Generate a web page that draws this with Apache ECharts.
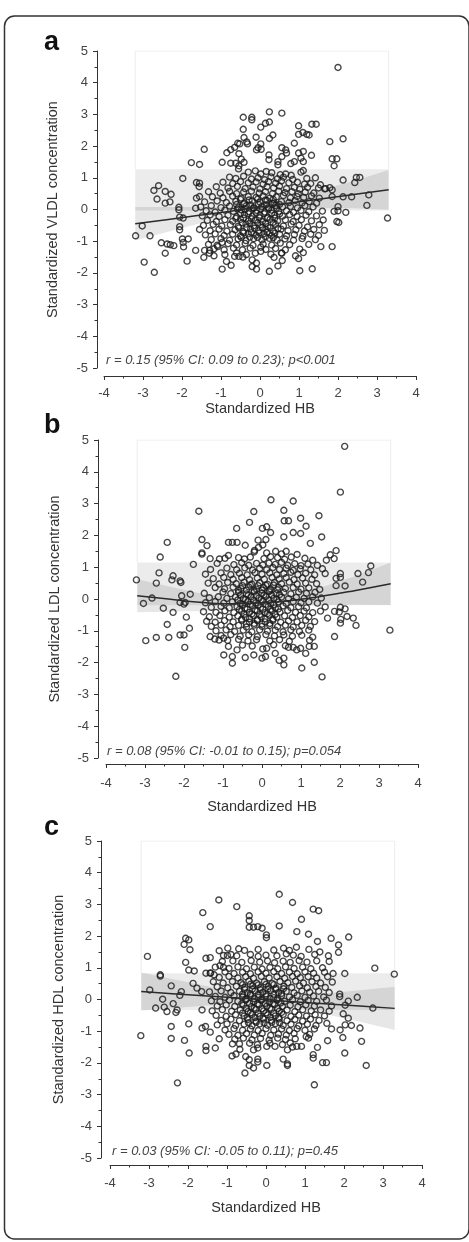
<!DOCTYPE html>
<html><head><meta charset="utf-8">
<script src="https://cdn.jsdelivr.net/npm/echarts/dist/echarts.min.js"></script>
<style>html,body{margin:0;padding:0;background:#fff}#c{width:469px;height:1242px}</style>
</head><body><div id="c"></div>
<script>
// ---- axes / labels ----
const xTicks = [-4,-3,-2,-1,0,1,2,3,4];
const yTicks = [-5,-4,-3,-2,-1,0,1,2,3,4,5];
const panelLetters = ['a','b','c'];
const yTitles = ['Standardized VLDL concentration','Standardized LDL concentration','Standardized HDL concentration'];
const xTitle = 'Standardized HB';
const statTexts = [
  'r = 0.15 (95% CI: 0.09 to 0.23); p<0.001',
  'r = 0.08 (95% CI: -0.01 to 0.15); p=0.054',
  'r = 0.03 (95% CI: -0.05 to 0.11); p=0.45'
];

// ---- fit lines & bands (x grid shared) ----
const fitX = [-3.2,-2.4,-1.6,-0.8,0,0.8,1.6,2.4,3.3];
const fitA = [-0.45,-0.32,-0.19,-0.06,0.08,0.21,0.34,0.47,0.62];
const fanHiA = [0.08,0.08,0.08,0.09,0.16,0.37,0.63,0.90,1.25];
const fanLoA = [-0.98,-0.72,-0.46,-0.21,0.00,0.05,0.05,0.04,-0.01];
const rectA = [-0.03,1.27];
const fitB = [0.10,0.00,-0.10,-0.15,-0.12,-0.04,0.10,0.27,0.48];
const fanHiB = [0.62,0.40,0.18,0.03,0.00,0.14,0.40,0.72,1.15];
const fanLoB = [-0.42,-0.40,-0.38,-0.33,-0.24,-0.22,-0.20,-0.18,-0.19];
const rectB = [-0.2,1.15];
const fitC = [0.25,0.185,0.12,0.055,-0.01,-0.075,-0.14,-0.205,-0.28];
const fanHiC = [0.85,0.645,0.44,0.235,0.09,0.105,0.2,0.295,0.40];
const fanLoC = [-0.35,-0.275,-0.2,-0.125,-0.11,-0.255,-0.48,-0.705,-0.96];
const rectC = [-0.33,0.83];

// ---- points, panel a (VLDL) ----
const vldlOuter = [
[2.0,4.48],[3.27,-0.27],[-3.19,-0.83],[-3.02,-0.52],[-2.82,-0.83],[-2.97,-1.66],[-2.71,-1.98],[-2.72,0.6],[-2.6,0.75],[-2.64,0.33],[-2.43,0.57],[-2.28,0.48],[-2.43,0.2],[-2.31,0.24],[-2.53,-1.05],[-2.38,-1.09],[-2.3,-1.11],[-2.21,-1.14],[-2.43,-1.38],[-1.98,0.98],[-2.08,0.07],[-2.08,-0.01],[-2.06,-0.24],[-1.97,-0.27],[-2.06,-0.54],[-2.06,-0.64],[-1.99,-0.93],[-1.84,-0.93],[-1.97,-1.04],[-1.96,-1.18],[-1.87,-1.63],[-1.76,1.48],[-1.55,1.42],[-1.43,1.9],[-1.63,0.85],[-1.55,0.83],[-1.56,0.72],[-1.63,0.36],[-1.55,0.41],[-1.65,0.04],[-1.65,-1.29],[-1.44,-1.51],[-0.97,1.49],[-0.97,-1.88],[-0.86,-1.64],[-0.74,-1.76],
[-0.43,2.91],[-0.21,2.91],[-0.21,2.83],[0.24,3.08],[0.56,3.04],[-0.43,2.53],[-0.1,2.28],[0.02,2.6],[0.14,2.72],[0.24,2.76],[0.33,2.35],[0.24,2.24],[-0.41,2.27],[-0.57,2.09],[-0.52,2.07],[-0.34,2.13],[-0.32,2.07],[0.02,2.07],[-0.09,1.88],[0.03,1.9],[-0.75,1.89],[-0.65,1.96],[-0.85,1.79],[-0.54,1.76],[-0.75,1.46],[-0.48,1.59],[-0.41,1.49],[-0.62,1.46],[-0.54,1.38],[-0.05,1.95],
[0.56,1.95],[0.66,1.88],[0.68,1.78],[0.56,1.67],[0.46,1.51],[0.46,1.41],[0.23,1.72],[0.23,1.57],[0.99,2.64],[0.99,2.37],[1.1,2.43],[1.2,2.37],[1.26,2.35],[1.33,2.69],[1.44,2.69],[0.88,2.09],[0.99,1.78],[1.11,1.83],[1.32,1.71],[0.88,1.51],[0.79,1.45],[1.05,1.62],[1.11,1.51],[1.11,1.23],
[1.79,2.14],[2.13,2.23],[1.85,1.6],[1.97,1.6],[1.9,1.38],[2.13,0.93],[2.43,0.85],[2.47,1.01],[2.56,1.01],[2.79,0.46],[2.74,0.13],[2.35,0.4],[2.13,0.4],[2.0,0.09],[2.0,-0.04],[1.9,-0.06],[2.2,-0.09],[1.97,-0.38],[2.02,-0.41],[1.85,-1.17],[1.79,0.69],[1.85,0.62],[1.66,0.65],[1.5,0.68],[1.85,0.41],
[1.56,-1.17],[1.34,-1.87],[1.02,-1.93],[1.02,-1.25],[0.91,-1.46],[0.99,-1.55],[1.11,-1.36],
[0.24,-1.95],[0.46,-1.78],[0.57,-1.61],[0.36,-1.51],[0.56,-1.38],[-0.2,-1.8],[-0.09,-1.88],[-0.2,-1.59],[-0.09,-1.69],[0.02,-1.19],[0.02,-1.32],[-0.44,-1.5],[-0.54,-1.48],[-0.65,-1.48],[-1.18,-1.46],[-1.29,-1.29],[-1.42,-1.29],[-1.08,-1.17],[-0.97,-1.04]
];
const vldlCore = [
[-0.55,1.28],[-0.3,1.18],[-0.12,1.22],[0.02,1.12],[0.16,1.2],[0.3,1.16],[0.52,1.1],[0.66,1.12],[0.8,1.08],[1.05,1.18],
[-0.78,1.02],[-0.62,0.98],[-0.42,1.05],[-0.22,0.96],[-0.05,1.0],[0.12,0.94],[0.28,1.03],[0.45,0.97],[0.6,1.02],[0.84,0.95],[1.2,0.98],[1.42,1.0],
[-0.95,0.86],[-0.7,0.82],[-0.5,0.88],[-0.3,0.84],[-0.1,0.87],[0.08,0.8],[0.22,0.88],[0.4,0.83],[0.55,0.9],[0.74,0.84],[0.96,0.86],[1.14,0.8],[1.3,0.82],[1.55,0.78],
[-1.12,0.72],[-0.82,0.68],[-0.58,0.73],[-0.38,0.66],[-0.18,0.71],[0.0,0.65],[0.18,0.72],[0.35,0.68],[0.5,0.74],[0.68,0.66],[0.88,0.7],[1.02,0.64],[1.22,0.7],[1.68,0.66],
[-1.32,0.56],[-1.02,0.52],[-0.78,0.57],[-0.6,0.5],[-0.42,0.55],[-0.22,0.58],[-0.02,0.52],[0.14,0.56],[0.32,0.5],[0.48,0.58],[0.64,0.53],[0.82,0.56],[0.98,0.5],[1.16,0.55],[1.38,0.52],
[-1.22,0.4],[-0.95,0.37],[-0.7,0.42],[-0.48,0.36],[-0.3,0.41],[-0.1,0.38],[0.08,0.43],[0.25,0.36],[0.42,0.4],[0.6,0.44],[0.78,0.37],[0.95,0.41],[1.12,0.38],[1.32,0.43],[1.52,0.36],
[-1.42,0.24],[-1.1,0.27],[-0.86,0.22],[-0.62,0.26],[-0.4,0.21],[-0.2,0.27],[0.0,0.23],[0.18,0.28],[0.36,0.2],[0.55,0.25],[0.74,0.22],[0.9,0.28],[1.08,0.21],[1.26,0.25],[1.45,0.2],
[-1.52,0.08],[-1.25,0.12],[-1.0,0.06],[-0.78,0.11],[-0.55,0.07],[-0.35,0.12],[-0.16,0.05],[0.05,0.1],[0.22,0.06],[0.4,0.13],[0.58,0.08],[0.78,0.1],[0.96,0.05],[1.15,0.12],[1.36,0.08],
[-1.38,-0.04],[-1.15,-0.08],[-0.9,-0.02],[-0.68,-0.06],[-0.48,-0.01],[-0.28,-0.07],[-0.08,-0.03],[0.12,-0.08],[0.3,-0.02],[0.48,-0.06],[0.68,-0.04],[0.86,-0.09],[1.05,-0.03],[1.25,-0.07],[1.6,-0.05],
[-1.48,-0.2],[-1.28,-0.17],[-1.05,-0.22],[-0.82,-0.18],[-0.6,-0.23],[-0.4,-0.16],[-0.2,-0.21],[0.0,-0.18],[0.2,-0.24],[0.38,-0.17],[0.58,-0.21],[0.76,-0.16],[0.95,-0.22],[1.18,-0.18],[1.45,-0.2],
[-1.35,-0.34],[-1.12,-0.38],[-0.9,-0.32],[-0.7,-0.37],[-0.5,-0.31],[-0.3,-0.36],[-0.12,-0.33],[0.06,-0.38],[0.26,-0.31],[0.45,-0.36],[0.65,-0.33],[0.85,-0.38],[1.06,-0.32],[1.32,-0.36],[1.62,-0.33],
[-1.45,-0.5],[-1.2,-0.47],[-0.98,-0.52],[-0.76,-0.48],[-0.56,-0.53],[-0.36,-0.46],[-0.16,-0.51],[0.02,-0.48],[0.2,-0.54],[0.4,-0.47],[0.6,-0.52],[0.8,-0.46],[1.0,-0.5],[1.22,-0.55],[1.52,-0.48],
[-1.55,-0.63],[-1.28,-0.67],[-1.05,-0.62],[-0.85,-0.68],[-0.64,-0.64],[-0.44,-0.69],[-0.24,-0.62],[-0.04,-0.67],[0.15,-0.63],[0.34,-0.68],[0.54,-0.62],[0.72,-0.67],[0.92,-0.64],[1.14,-0.68],[1.38,-0.63],[1.65,-0.66],
[-1.4,-0.8],[-1.15,-0.77],[-0.92,-0.82],[-0.7,-0.78],[-0.5,-0.83],[-0.3,-0.77],[-0.1,-0.81],[0.1,-0.76],[0.3,-0.82],[0.5,-0.78],[0.68,-0.83],[0.88,-0.79],[1.1,-0.84],[1.3,-0.78],[1.5,-0.82],
[-1.25,-0.95],[-1.0,-0.92],[-0.78,-0.97],[-0.56,-0.93],[-0.36,-0.98],[-0.16,-0.92],[0.05,-0.96],[0.24,-0.91],[0.44,-0.97],[0.64,-0.93],[0.86,-0.97],[1.08,-0.92],[1.42,-0.95],
[-1.32,-1.1],[-1.1,-1.13],[-0.82,-1.08],[-0.6,-1.12],[-0.38,-1.07],[-0.18,-1.13],[0.08,-1.09],[0.3,-1.12],[0.52,-1.06],[0.76,-1.11],[1.25,-1.1],
[-1.18,-1.24],[-0.92,-1.27],[-0.68,-1.22],[-0.45,-1.27],[-0.25,-1.22],[0.15,-1.26],[0.4,-1.23],[0.65,-1.27],
[-1.3,-1.38],[-0.9,-1.42],[-0.6,-1.37],[-0.35,-1.42],[-0.12,-1.38],[0.28,-1.41],[0.55,-1.37],
[-0.5,0.32],[-0.28,0.3],[-0.06,0.33],[0.14,0.3],[0.34,0.32],[-0.6,0.16],[-0.42,0.18],[-0.24,0.14],[-0.04,0.17],[0.16,0.15],[0.32,0.19],[0.5,0.16],[-0.58,0.02],[-0.38,0.0],[-0.18,0.03],[0.02,0.01],[0.22,0.02],[0.42,0.04],[-0.5,-0.12],[-0.3,-0.13],[-0.1,-0.11],[0.1,-0.13],[0.3,-0.12],[0.5,-0.14],[-0.62,-0.28],[-0.42,-0.27],[-0.22,-0.29],[-0.02,-0.26],[0.18,-0.28],[0.38,-0.27],[-0.46,-0.42],[-0.26,-0.43],[-0.06,-0.42],[0.14,-0.44],[0.34,-0.41],[-0.54,-0.58],[-0.34,-0.57],[-0.14,-0.59],[0.06,-0.57],[0.26,-0.58],[0.46,-0.6],[-0.42,-0.74],[-0.22,-0.73],[-0.02,-0.74],[0.18,-0.72],[0.38,-0.75],[-0.48,-0.88],[-0.26,-0.87],[-0.06,-0.88],[0.14,-0.86],[0.34,-0.89]
];

// ---- points, panel b (LDL) ----
const ldlOuter = [
[-0.21,5.03],[2.12,4.8],[2.01,3.36],[0.23,3.12],[0.8,3.08],[-1.62,2.76],[-0.21,2.75],[0.56,2.79],[1.46,2.62],[0.99,2.54],[-0.32,2.41],[0.57,2.46],[0.68,2.46],[1.13,2.29],
[-0.65,2.22],[0.01,2.22],[0.12,2.27],[0.22,2.09],[0.56,1.95],[0.8,2.09],[0.99,2.06],[1.53,1.95],
[-2.43,1.78],[-1.54,1.87],[-1.41,1.68],[-0.86,1.78],[-0.76,1.78],[-0.64,1.78],[-0.43,1.69],[-0.1,1.85],[0.02,1.7],[0.1,1.87],[-0.19,1.53],[-0.09,1.62],
[1.24,1.75],[1.9,1.52],[1.75,1.39],[1.85,1.27],[1.65,1.22],
[-2.61,1.32],[-1.76,1.09],[-1.54,1.45],[-1.54,1.41],[-1.33,1.27],[-1.09,1.26],[-0.86,1.37],
[-3.22,0.6],[-3.04,-0.14],[-2.82,0.03],[-2.71,0.5],[-2.64,0.82],[-2.53,-0.29],[-2.43,-0.8],[-2.39,-1.21],[-2.71,-1.21],[-2.98,-1.31],[-2.28,-0.42],[-2.28,0.73],[-2.31,0.6],[-2.1,0.57],[-2.08,0.52],[-2.06,0.1],[-2.1,-0.11],[-1.97,-0.11],[-2.0,-0.16],[-1.94,-0.57],[-1.86,-0.92],[-2.1,-1.13],[-2.0,-1.13],[-1.98,-1.52],[-2.21,-2.43],[-1.84,0.15],
[3.28,-0.98],[2.79,1.04],[2.73,0.83],[2.46,0.8],[2.58,0.53],[2.13,0.41],[2.01,0.8],[2.01,0.68],[1.9,0.65],[1.9,0.42],[2.18,-0.55],[2.34,-0.6],[2.41,-0.83],[2.01,-0.26],[2.13,-0.31],[1.98,-0.41],[2.02,-0.64],[2.01,-0.76],[1.86,-0.39],[1.86,-1.18],[1.54,-2.45],[1.02,-2.17],[1.34,-1.99],[1.12,-1.71],[1.34,-1.49],[1.21,-1.49],
[-0.98,-1.76],[-0.76,-2.02],[-0.76,-1.81],[-0.86,-1.49],[-0.64,-1.6],[-0.43,-1.84],[-0.21,-1.76],[0.0,-1.86],[0.09,-1.81],[0.44,-1.93],[0.56,-2.07],[0.56,-1.86],[0.34,-1.71],[0.02,-1.57],[0.12,-1.55],[0.68,-1.52],[0.8,-1.52],[0.89,-1.6],[0.99,-1.55],[-0.98,-1.23],[-1.21,-1.26],[-1.33,-1.18],[-1.1,-1.29]
];
const ldlCore = [
[-0.2,1.48],[0.12,1.45],[0.35,1.5],[0.5,1.42],[0.62,1.5],[0.9,1.4],
[-0.95,1.28],[-0.6,1.3],[-0.45,1.26],[-0.3,1.32],[0.05,1.27],[0.22,1.33],[0.4,1.3],[0.58,1.25],[0.75,1.32],[1.1,1.28],[1.3,1.22],
[-1.15,1.12],[-0.72,1.08],[-0.52,1.14],[-0.34,1.06],[-0.14,1.12],[0.02,1.07],[0.18,1.13],[0.34,1.09],[0.5,1.15],[0.66,1.06],[0.84,1.11],[1.0,1.05],[1.18,1.1],[1.42,1.06],
[-1.32,0.93],[-0.9,0.97],[-0.65,0.92],[-0.44,0.98],[-0.24,0.91],[-0.06,0.96],[0.12,0.92],[0.28,0.99],[0.45,0.93],[0.62,0.97],[0.8,0.9],[0.98,0.95],[1.25,0.92],[1.55,0.95],
[-1.45,0.78],[-1.05,0.82],[-0.8,0.77],[-0.58,0.81],[-0.38,0.76],[-0.18,0.83],[0.0,0.78],[0.2,0.82],[0.38,0.76],[0.56,0.8],[0.74,0.84],[0.92,0.77],[1.12,0.81],[1.35,0.76],[1.62,0.8],
[-1.25,0.64],[-0.98,0.68],[-0.74,0.62],[-0.52,0.67],[-0.32,0.61],[-0.12,0.66],[0.06,0.62],[0.26,0.68],[0.44,0.63],[0.62,0.67],[0.82,0.61],[1.04,0.66],[1.28,0.62],
[-1.38,0.5],[-1.1,0.47],[-0.88,0.52],[-0.66,0.48],[-0.46,0.53],[-0.26,0.47],[-0.06,0.51],[0.14,0.46],[0.32,0.52],[0.5,0.48],[0.7,0.53],[0.9,0.47],[1.12,0.5],[1.4,0.48],
[-1.2,0.36],[-0.96,0.32],[-0.74,0.37],[-0.54,0.33],[-0.34,0.38],[-0.14,0.31],[0.04,0.36],[0.22,0.32],[0.42,0.37],[0.6,0.33],[0.8,0.36],[1.0,0.31],[1.2,0.35],[1.48,0.3],
[-1.48,0.18],[-1.0,0.22],[-0.8,0.17],[-0.6,0.21],[-0.4,0.16],[-0.2,0.22],[0.0,0.18],[0.18,0.23],[0.36,0.17],[0.56,0.21],[0.74,0.16],[0.94,0.22],[1.14,0.18],[1.36,0.21],
[-1.35,0.04],[-1.12,0.07],[-0.9,0.02],[-0.68,0.06],[-0.48,0.01],[-0.28,0.07],[-0.08,0.03],[0.1,0.08],[0.3,0.02],[0.5,0.06],[0.68,0.01],[0.88,0.05],[1.08,0.02],[1.3,0.07],[1.52,0.03],
[-1.45,-0.12],[-1.2,-0.08],[-0.98,-0.13],[-0.76,-0.09],[-0.56,-0.14],[-0.36,-0.08],[-0.16,-0.12],[0.02,-0.07],[0.22,-0.13],[0.42,-0.09],[0.62,-0.14],[0.8,-0.08],[1.0,-0.12],[1.2,-0.09],[1.42,-0.13],
[-1.3,-0.26],[-1.05,-0.23],[-0.84,-0.28],[-0.64,-0.24],[-0.44,-0.29],[-0.24,-0.22],[-0.04,-0.27],[0.16,-0.23],[0.34,-0.28],[0.54,-0.22],[0.74,-0.27],[0.94,-0.24],[1.14,-0.28],[1.62,-0.25],
[-1.5,-0.4],[-1.18,-0.42],[-0.95,-0.37],[-0.72,-0.43],[-0.52,-0.38],[-0.32,-0.42],[-0.12,-0.37],[0.08,-0.43],[0.26,-0.38],[0.46,-0.41],[0.66,-0.36],[0.86,-0.42],[1.08,-0.38],[1.3,-0.43],[1.5,-0.38],
[-1.35,-0.56],[-1.08,-0.52],[-0.84,-0.57],[-0.62,-0.53],[-0.42,-0.58],[-0.22,-0.52],[-0.02,-0.56],[0.18,-0.51],[0.38,-0.57],[0.58,-0.53],[0.78,-0.58],[0.98,-0.52],[1.2,-0.56],[1.68,-0.6],
[-1.42,-0.7],[-1.2,-0.73],[-0.96,-0.68],[-0.74,-0.72],[-0.52,-0.67],[-0.32,-0.73],[-0.12,-0.68],[0.08,-0.72],[0.28,-0.67],[0.48,-0.73],[0.68,-0.69],[0.9,-0.72],[1.12,-0.67],[1.35,-0.71],
[-1.3,-0.86],[-1.05,-0.82],[-0.82,-0.87],[-0.6,-0.83],[-0.4,-0.88],[-0.2,-0.82],[0.0,-0.86],[0.2,-0.83],[0.4,-0.87],[0.6,-0.82],[0.8,-0.88],[1.02,-0.83],[1.24,-0.86],
[-1.18,-1.0],[-0.92,-0.97],[-0.7,-1.02],[-0.48,-0.98],[-0.26,-1.03],[-0.06,-0.97],[0.14,-1.01],[0.34,-0.98],[0.54,-1.03],[0.74,-0.97],[0.96,-1.02],[1.2,-0.98],
[-1.05,-1.15],[-0.8,-1.12],[-0.56,-1.17],[-0.34,-1.13],[-0.12,-1.18],[0.1,-1.12],[0.32,-1.16],[0.56,-1.13],[0.78,-1.17],[1.02,-1.14],[1.3,-1.2],
[-0.88,-1.3],[-0.6,-1.27],[-0.36,-1.32],[-0.14,-1.28],[0.2,-1.32],[0.45,-1.28],[0.7,-1.33],[1.22,-1.3],
[-0.5,-1.45],[-0.25,-1.48],[0.3,-1.44],[0.6,-1.47],
[-0.5,0.42],[-0.3,0.44],[-0.1,0.42],[0.1,0.43],[0.3,0.44],[-0.6,0.27],[-0.4,0.28],[-0.2,0.26],[0.0,0.28],[0.2,0.27],[0.4,0.29],[-0.55,0.12],[-0.35,0.13],[-0.15,0.11],[0.05,0.13],[0.25,0.12],[0.45,0.14],[-0.62,-0.03],[-0.42,-0.02],[-0.22,-0.04],[-0.02,-0.02],[0.18,-0.03],[0.38,-0.01],[-0.5,-0.18],[-0.3,-0.17],[-0.1,-0.19],[0.1,-0.17],[0.3,-0.18],[-0.58,-0.33],[-0.38,-0.32],[-0.18,-0.34],[0.02,-0.32],[0.22,-0.33],[0.42,-0.31],[-0.46,-0.48],[-0.26,-0.47],[-0.06,-0.49],[0.14,-0.46],[0.34,-0.48],[-0.52,-0.63],[-0.32,-0.62],[-0.12,-0.64],[0.08,-0.62],[0.28,-0.63],[-0.4,-0.78],[-0.2,-0.77],[0.0,-0.79],[0.2,-0.77]
];

// ---- points, panel c (HDL) ----
const hdlOuter = [
[-3.21,-1.14],[-3.04,1.36],[-2.98,0.3],[-2.83,-0.27],[-2.71,0.78],[-2.71,0.74],[-2.65,0.01],[-2.61,-0.24],[-2.54,-0.38],[-2.43,0.43],[-2.43,-0.85],[-2.43,-1.23],[-2.38,-0.13],[-2.31,-0.41],[-2.28,-0.33],[-2.27,-2.63],[-2.17,0.25],[-2.21,0.13],[-2.1,1.74],[-2.06,1.93],[-1.98,1.88],[-1.95,1.57],[-2.06,1.17],[-1.98,0.93],[-1.84,0.9],[-2.09,-1.29],[-1.98,-0.77],[-1.97,-1.69],[-1.87,0.51],[-1.77,0.36],[-1.65,0.25],[-1.64,-0.33],[-1.64,-0.9],[-1.55,-0.85],[-1.54,-1.48],[-1.54,-1.61],[-1.3,-1.53],[-1.43,-1.03],[-1.62,2.74],[-1.43,2.3],[-1.21,3.14],[-0.75,2.93],[-1.54,1.3],[-1.43,1.32],[-1.54,0.83],[-1.43,0.83],[-1.33,0.78],[-1.2,1.54],[-1.09,1.39],[-0.98,1.62],[-0.99,1.39],[-1.18,1.07],[-1.09,1.01],[-1.2,-1.24],[-0.87,-1.78],[-0.77,-1.72],
[-0.43,2.64],[-0.43,2.49],[-0.43,2.28],[-0.32,2.28],[-0.21,2.3],[-0.1,2.25],[0.34,2.32],[0.34,3.32],[0.68,3.06],[1.21,2.85],[1.35,2.8],[0.91,2.53],[0.01,2.04],[0.01,1.95],[0.79,2.14],[1.09,2.06],[1.67,1.93],[2.12,1.97],[1.86,1.72],[1.86,1.49],[1.32,1.83],[2.79,0.99],[3.29,0.8],[2.02,0.82],[2.34,0.07],[2.74,-0.27],[2.41,-0.9],[2.45,-1.32],[2.57,-2.08],[2.02,-1.69],[1.97,-1.2],[1.9,-0.96],[2.19,-0.82],[2.03,-0.8],[2.11,-0.59],[1.98,-0.45],[2.03,-0.18],[2.11,-0.05],[1.89,0.17],[1.89,0.09],[1.45,-1.99],[1.55,-1.99],[1.24,-2.69],[1.21,-1.74],[1.21,-1.85],[1.32,-1.51],[1.58,-1.3],[1.68,-0.93],[1.56,-0.75],
[-0.54,-2.32],[-0.43,-2.08],[-0.32,-2.16],[-0.43,-1.9],[-0.52,-1.8],[-0.21,-1.88],[-0.21,-1.97],[0.02,-2.08],[0.55,-2.03],[0.55,-2.08],[0.44,-1.88],[0.55,-1.59],[0.68,-1.5],[0.79,-1.48],[0.91,-1.48],[1.03,-1.17],[1.09,-1.22],[0.23,-1.48],[0.02,-1.48],[-0.21,-1.53],[-0.32,-1.59],[-0.67,-1.57],[-0.86,-1.4]
];
const hdlCore = [
[-0.7,1.6],[-0.55,1.55],[-0.2,1.58],[0.2,1.56],[0.45,1.62],[0.6,1.55],[0.78,1.65],[1.1,1.58],[1.38,1.5],
[-0.9,1.42],[-0.75,1.38],[-0.4,1.42],[-0.2,1.36],[0.0,1.4],[0.28,1.38],[0.52,1.44],[0.7,1.4],[0.9,1.36],[1.25,1.42],[1.6,1.38],
[-1.12,1.2],[-0.85,1.22],[-0.62,1.17],[-0.38,1.23],[-0.16,1.18],[0.04,1.22],[0.22,1.16],[0.44,1.21],[0.62,1.17],[0.85,1.23],[1.05,1.18],[1.3,1.22],[1.62,1.2],
[-1.3,1.02],[-0.95,0.98],[-0.72,1.03],[-0.5,0.97],[-0.3,1.02],[-0.1,0.96],[0.1,1.01],[0.3,0.97],[0.5,1.03],[0.72,0.98],[0.94,1.02],[1.15,0.97],[1.45,1.0],
[-1.42,0.84],[-1.05,0.87],[-0.82,0.82],[-0.6,0.86],[-0.4,0.81],[-0.2,0.87],[0.0,0.83],[0.2,0.88],[0.4,0.82],[0.6,0.86],[0.8,0.81],[1.0,0.87],[1.22,0.83],[1.5,0.86],[1.72,0.82],
[-1.2,0.7],[-0.95,0.73],[-0.72,0.68],[-0.52,0.72],[-0.32,0.67],[-0.12,0.73],[0.08,0.68],[0.28,0.72],[0.48,0.67],[0.68,0.73],[0.88,0.69],[1.08,0.72],[1.3,0.68],[1.58,0.72],
[-1.35,0.56],[-1.1,0.52],[-0.86,0.57],[-0.64,0.53],[-0.44,0.58],[-0.24,0.52],[-0.04,0.56],[0.16,0.51],[0.36,0.57],[0.56,0.53],[0.76,0.58],[0.96,0.52],[1.18,0.56],[1.4,0.52],[1.7,0.55],
[-1.25,0.4],[-0.98,0.37],[-0.76,0.42],[-0.54,0.38],[-0.34,0.43],[-0.14,0.37],[0.06,0.41],[0.26,0.36],[0.46,0.42],[0.66,0.38],[0.86,0.43],[1.06,0.37],[1.28,0.41],[1.52,0.38],
[-1.45,0.24],[-1.15,0.27],[-0.9,0.22],[-0.68,0.26],[-0.48,0.21],[-0.28,0.27],[-0.08,0.23],[0.12,0.28],[0.32,0.22],[0.52,0.26],[0.72,0.21],[0.92,0.27],[1.12,0.23],[1.35,0.26],[1.62,0.22],
[-1.3,0.1],[-1.05,0.07],[-0.82,0.12],[-0.6,0.08],[-0.4,0.13],[-0.2,0.07],[0.0,0.11],[0.2,0.06],[0.4,0.12],[0.6,0.08],[0.8,0.13],[1.0,0.07],[1.22,0.11],[1.48,0.08],
[-1.4,-0.04],[-1.18,-0.07],[-0.94,-0.02],[-0.72,-0.06],[-0.52,-0.01],[-0.32,-0.07],[-0.12,-0.03],[0.08,-0.08],[0.28,-0.02],[0.48,-0.06],[0.68,-0.01],[0.88,-0.07],[1.08,-0.03],[1.3,-0.06],[1.55,-0.02],
[-1.25,-0.2],[-1.02,-0.17],[-0.8,-0.22],[-0.58,-0.18],[-0.38,-0.23],[-0.18,-0.17],[0.02,-0.21],[0.22,-0.16],[0.42,-0.22],[0.62,-0.18],[0.82,-0.23],[1.02,-0.17],[1.24,-0.21],[1.68,-0.2],
[-1.38,-0.36],[-1.12,-0.32],[-0.88,-0.37],[-0.66,-0.33],[-0.46,-0.38],[-0.26,-0.32],[-0.06,-0.36],[0.14,-0.31],[0.34,-0.37],[0.54,-0.33],[0.74,-0.38],[0.94,-0.32],[1.16,-0.36],[1.4,-0.33],[1.62,-0.37],
[-1.28,-0.5],[-1.02,-0.53],[-0.78,-0.48],[-0.56,-0.52],[-0.36,-0.47],[-0.16,-0.53],[0.04,-0.48],[0.24,-0.52],[0.44,-0.47],[0.64,-0.53],[0.84,-0.49],[1.04,-0.52],[1.26,-0.48],[1.5,-0.52],
[-1.15,-0.66],[-0.9,-0.62],[-0.68,-0.67],[-0.46,-0.63],[-0.26,-0.68],[-0.06,-0.62],[0.14,-0.66],[0.34,-0.61],[0.54,-0.67],[0.74,-0.63],[0.94,-0.68],[1.14,-0.62],[1.36,-0.66],
[-1.25,-0.8],[-1.0,-0.77],[-0.78,-0.82],[-0.56,-0.78],[-0.36,-0.83],[-0.16,-0.77],[0.04,-0.81],[0.24,-0.76],[0.44,-0.82],[0.64,-0.78],[0.84,-0.83],[1.06,-0.78],[1.28,-0.82],
[-1.05,-0.96],[-0.82,-0.92],[-0.6,-0.97],[-0.4,-0.93],[-0.2,-0.98],[0.0,-0.92],[0.2,-0.96],[0.4,-0.93],[0.6,-0.98],[0.8,-0.92],[1.0,-0.97],[1.24,-0.93],
[-0.95,-1.1],[-0.72,-1.13],[-0.5,-1.08],[-0.3,-1.12],[-0.1,-1.07],[0.12,-1.13],[0.32,-1.09],[0.52,-1.12],[0.72,-1.07],[1.12,-1.1],
[-0.8,-1.25],[-0.58,-1.22],[-0.36,-1.27],[-0.14,-1.23],[0.08,-1.28],[0.3,-1.22],[0.5,-1.26],[0.75,-1.24],
[-0.68,-1.4],[-0.42,-1.38],[-0.22,-1.42],[0.1,-1.38],[0.42,-1.42],[0.62,-1.37],
[-0.6,0.47],[-0.4,0.48],[-0.2,0.46],[0.0,0.48],[0.2,0.47],[-0.55,0.32],[-0.35,0.33],[-0.15,0.31],[0.05,0.33],[0.25,0.32],[0.45,0.34],[-0.6,0.17],[-0.4,0.18],[-0.2,0.16],[0.0,0.18],[0.2,0.17],[0.4,0.19],[-0.5,0.02],[-0.3,0.03],[-0.1,0.01],[0.1,0.03],[0.3,0.02],[-0.62,-0.13],[-0.42,-0.12],[-0.22,-0.14],[-0.02,-0.12],[0.18,-0.13],[0.38,-0.11],[-0.5,-0.28],[-0.3,-0.27],[-0.1,-0.29],[0.1,-0.27],[0.3,-0.28],[-0.6,-0.43],[-0.4,-0.42],[-0.2,-0.44],[0.0,-0.42],[0.2,-0.43],[0.4,-0.41],[-0.48,-0.58],[-0.28,-0.57],[-0.08,-0.59],[0.12,-0.56],[0.32,-0.58],[-0.45,-0.73],[-0.25,-0.72],[-0.05,-0.74],[0.15,-0.72],[0.35,-0.73]
];

// ---- layout ----
const FONT = '"Liberation Sans", Arial, Helvetica, sans-serif';
const layouts = [
  {left:104, top:51,  height:317, yOff:7, xOff:8, xMargin:11, xGap:25, yGap:37, letterY:45,  statX:106, statY:362},
  {left:106, top:440, height:318, yOff:8, xOff:6, xMargin:13, xGap:35, yGap:36, letterY:428, statX:107, statY:753},
  {left:110, top:841, height:317, yOff:9, xOff:7, xMargin:12, xGap:35, yGap:35, letterY:830, statX:112, statY:1153}
];
const panels = [
  {pts: vldlOuter.concat(vldlCore), fit: fitA, hi: fanHiA, lo: fanLoA, rect: rectA, smooth:false},
  {pts: ldlOuter.concat(ldlCore),   fit: fitB, hi: fanHiB, lo: fanLoB, rect: rectB, smooth:0.5},
  {pts: hdlOuter.concat(hdlCore),   fit: fitC, hi: fanHiC, lo: fanLoC, rect: rectC, smooth:false}
];

function polyRender(xs, hi, lo, fill) {
  return function (params, api) {
    const pts = [];
    for (let i = 0; i < xs.length; i++) pts.push(api.coord([xs[i], hi[i]]));
    for (let i = xs.length - 1; i >= 0; i--) pts.push(api.coord([xs[i], lo[i]]));
    return {type:'polygon', shape:{points:pts}, style:{fill:fill}};
  };
}

const grid = [], xAxis = [], yAxis = [], series = [], graphic = [];
const xMin = xTicks[0], xMax = xTicks[xTicks.length-1];
const yMin = yTicks[0], yMax = yTicks[yTicks.length-1];
const xL = fitX[0], xR = fitX[fitX.length-1];

panels.forEach((p, i) => {
  const L = layouts[i];
  grid.push({left:L.left, top:L.top, width:312, height:L.height});
  const common = {
    type:'value', gridIndex:i, interval:1,
    axisLine:{show:true, onZero:false, lineStyle:{color:'#333', width:1}},
    axisTick:{show:true, length:4, lineStyle:{color:'#333'}},
    minorTick:{show:true, splitNumber:2, length:2.5, lineStyle:{color:'#333'}},
    splitLine:{show:false},
    nameLocation:'middle',
    nameTextStyle:{fontFamily:FONT, fontSize:14.5, color:'#333'}
  };
  xAxis.push(Object.assign({}, common, {
    min:xMin, max:xMax, position:'bottom', offset:L.xOff,
    name:xTitle, nameGap:L.xGap,
    axisLabel:{fontFamily:FONT, fontSize:13, color:'#444', margin:L.xMargin}
  }));
  yAxis.push(Object.assign({}, common, {
    min:yMin, max:yMax, position:'left', offset:L.yOff,
    name:yTitles[i], nameGap:L.yGap,
    axisLabel:{fontFamily:FONT, fontSize:13, color:'#444', margin:9}
  }));
  // light horizontal band
  series.push({type:'custom', xAxisIndex:i, yAxisIndex:i, silent:true, z:1,
    data:[[0,0]], renderItem: polyRender([xL, xR], [p.rect[1], p.rect[1]], [p.rect[0], p.rect[0]], 'rgba(0,0,0,0.075)')});
  // confidence fan
  series.push({type:'custom', xAxisIndex:i, yAxisIndex:i, silent:true, z:2,
    data:[[0,0]], renderItem: polyRender(fitX, p.hi, p.lo, 'rgba(0,0,0,0.095)')});
  // faint frame of fit region
  series.push({type:'line', xAxisIndex:i, yAxisIndex:i, silent:true, z:2, symbol:'none',
    lineStyle:{color:'#ececec', width:1},
    data:[[xL, p.rect[1]], [xL, yMax], [xR, yMax], [xR, p.rect[1]]]});
  // points
  series.push({type:'scatter', xAxisIndex:i, yAxisIndex:i, z:3, symbol:'circle', symbolSize:6,
    itemStyle:{color:'rgba(255,255,255,0)', borderColor:'#1a1a1a', borderWidth:1.4},
    data:p.pts});
  // fit line
  series.push({type:'line', xAxisIndex:i, yAxisIndex:i, z:4, symbol:'none', smooth:p.smooth,
    lineStyle:{color:'#2b2b2b', width:1.5},
    data: fitX.map((x, k) => [x, p.fit[k]])});

  graphic.push({type:'text', left:44, top:L.letterY - 16, z:10,
    style:{text:panelLetters[i], font:'bold 27px ' + FONT, fill:'#111'}});
  graphic.push({type:'text', left:L.statX, top:L.statY - 8, z:10,
    style:{text:statTexts[i], font:'italic 13px ' + FONT, fill:'#444'}});
});

graphic.push({type:'rect', left:2, top:13.5, z:10,
  shape:{x:0, y:0, width:464.5, height:1223, r:10},
  style:{fill:'none', stroke:'#333', lineWidth:1.5}});

const chart = echarts.init(document.getElementById('c'), null, {renderer:'canvas'});
chart.setOption({animation:false, backgroundColor:'#fff', grid, xAxis, yAxis, series, graphic});
</script>
</body></html>
